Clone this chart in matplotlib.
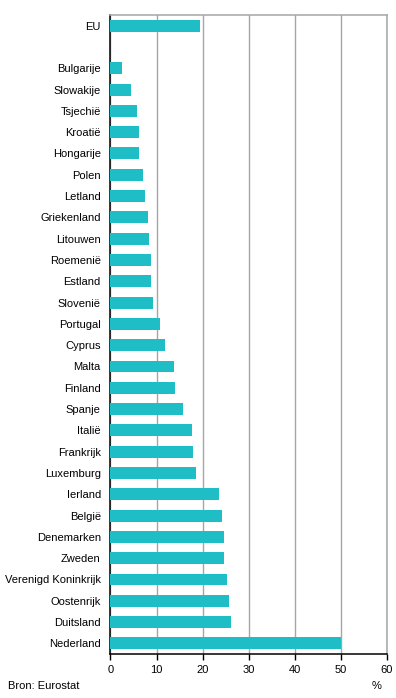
import matplotlib
matplotlib.use("Agg")
import matplotlib.pyplot as plt

BAR_COLOR = "#1fbdc6"
GRID_COLOR = "#a6a6a6"

countries = [
    "EU", "",
    "Bulgarije", "Slowakije", "Tsjechië", "Kroatië", "Hongarije", "Polen",
    "Letland", "Griekenland", "Litouwen", "Roemenië", "Estland", "Slovenië",
    "Portugal", "Cyprus", "Malta", "Finland", "Spanje", "Italië", "Frankrijk",
    "Luxemburg", "Ierland", "België", "Denemarken", "Zweden",
    "Verenigd Koninkrijk", "Oostenrijk", "Duitsland", "Nederland",
]
values = [
    19.4, None,
    2.5, 4.4, 5.7, 6.2, 6.2, 7.0,
    7.5, 8.1, 8.3, 8.8, 8.8, 9.2,
    10.7, 11.8, 13.8, 14.0, 15.7, 17.7, 17.9,
    18.5, 23.5, 24.2, 24.6, 24.6,
    25.3, 25.7, 26.1, 50.0,
]
x_ticks = [0, 10, 20, 30, 40, 50, 60]

plt.rcParams["font.family"] = ["Liberation Sans", "DejaVu Sans"]
plt.rcParams["font.size"] = 8

fig = plt.figure(figsize=(3.96, 6.98), dpi=100)
ax = fig.add_axes([0.279, 0.063, 0.698, 0.9155])

positions = list(range(len(countries)))
for pos, val in zip(positions, values):
    if val is not None:
        ax.barh(pos, val, height=0.56, color=BAR_COLOR, zorder=3)

ax.set_yticks(positions)
ax.set_yticklabels(countries)
ax.set_ylim(len(countries) - 0.5, -0.5)
ax.set_xlim(0, 60)
ax.set_xticks(x_ticks)

ax.xaxis.grid(True, color=GRID_COLOR, linewidth=1.0, zorder=0)
ax.set_axisbelow(True)

ax.tick_params(axis="y", length=0, pad=7)
ax.tick_params(axis="x", length=4, width=1, pad=4, direction="out")

ax.spines["left"].set_color("black")
ax.spines["bottom"].set_color("black")
ax.spines["top"].set_color(GRID_COLOR)
ax.spines["right"].set_color(GRID_COLOR)
for side in ("left", "bottom", "top", "right"):
    ax.spines[side].set_linewidth(1.1)

fig.text(8 / 396, 1 - 686 / 698, "Bron: Eurostat", ha="left", va="center")
fig.text(377 / 396, 1 - 686 / 698, "%", ha="center", va="center")

fig.savefig("out.png", dpi=100)
